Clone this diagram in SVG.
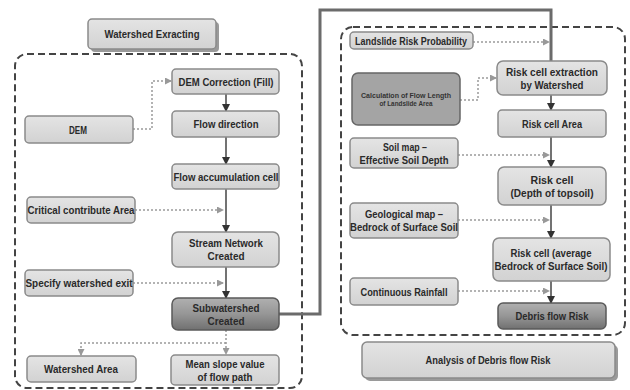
<svg xmlns="http://www.w3.org/2000/svg" width="630" height="390" viewBox="0 0 630 390">
<defs>
<linearGradient id="dark" x1="0" y1="0" x2="0" y2="1">
<stop offset="0" stop-color="#b0b0b0"/><stop offset="0.5" stop-color="#969696"/><stop offset="1" stop-color="#707070"/>
</linearGradient>
<linearGradient id="light" x1="0" y1="0" x2="0" y2="1">
<stop offset="0" stop-color="#e4e4e4"/><stop offset="1" stop-color="#d2d2d2"/>
</linearGradient>
<marker id="ah" markerWidth="8" markerHeight="8" refX="7" refY="4" orient="auto" markerUnits="userSpaceOnUse">
<path d="M0,0 L8,4 L0,8 z" fill="#333"/>
</marker>
<marker id="ahd" markerWidth="7" markerHeight="7" refX="6" refY="3.5" orient="auto" markerUnits="userSpaceOnUse">
<path d="M0,0 L7,3.5 L0,7 z" fill="#999"/>
</marker>
</defs>
<style>
.box{fill:url(#light);stroke:#8a8a8a;stroke-width:1.5}
.dk{fill:url(#dark);stroke:#5a5a5a;stroke-width:1.5}
.mid{fill:#a4a4a4;stroke:#666;stroke-width:1.5}
.sh{fill:#9a9a9a}
.t{font-family:"Liberation Sans",Arial,sans-serif;font-weight:bold;font-size:11px;fill:#2a2a2a;text-anchor:middle}
.ts{font-family:"Liberation Sans",Arial,sans-serif;font-weight:bold;font-size:7px;fill:#333;text-anchor:middle}
.cont{fill:none;stroke:#444;stroke-width:2;stroke-dasharray:7,4}
.sol{fill:none;stroke:#444;stroke-width:1.5;marker-end:url(#ah)}
.dot{fill:none;stroke:#9a9a9a;stroke-width:1.5;stroke-dasharray:2,2;marker-end:url(#ahd)}
.thick{fill:none;stroke:#6b6b6b;stroke-width:3}
</style>
<rect width="630" height="390" fill="#ffffff"/>

<!-- containers -->
<rect class="cont" x="15" y="54" width="287" height="334" rx="12"/>
<rect class="cont" x="341" y="27" width="284" height="308" rx="12"/>

<g id="connectors">
<path class="thick" d="M279,314 H320 V10 H551 V61"/>
<path class="dot" d="M133,129 H152 V81 H171"/>
<path class="sol" d="M226,94 V111"/>
<path class="sol" d="M226,137 V164"/>
<path class="sol" d="M226,189 V232"/>
<path class="dot" d="M135,210 H223"/>
<path class="sol" d="M226,267 V298"/>
<path class="dot" d="M133,283 H223"/>
<path class="dot" d="M226,330 V354"/>
<path class="dot" d="M226,343 H81 V355"/>
<path class="dot" d="M473,42 H549"/>
<path class="dot" d="M460,100 H478 V78 H496"/>
<path class="sol" d="M551,95 V110"/>
<path class="sol" d="M551,137 V167"/>
<path class="dot" d="M458,155 H549"/>
<path class="sol" d="M551,205 V238"/>
<path class="dot" d="M458,220 H549"/>
<path class="sol" d="M551,281 V303"/>
<path class="dot" d="M458,291 H549"/>
</g>

<g id="watershed-exracting">
<rect class="sh" x="91" y="22" width="128" height="30" rx="4"/>
<rect class="box" x="88" y="19" width="128" height="30" rx="4"/>
<text class="t" x="152" y="38" textLength="95" lengthAdjust="spacingAndGlyphs">Watershed Exracting</text>
</g>
<g id="dem-correction">
<rect class="box" x="172" y="69" width="107" height="25" rx="4"/>
<text class="t" x="226" y="85.5" textLength="95" lengthAdjust="spacingAndGlyphs">DEM Correction (Fill)</text>
</g>
<g id="flow-direction">
<rect class="box" x="172" y="111" width="107" height="26" rx="4"/>
<text class="t" x="226" y="128" textLength="65" lengthAdjust="spacingAndGlyphs">Flow direction</text>
</g>
<g id="dem">
<rect class="box" x="25" y="116" width="108" height="27" rx="4"/>
<text class="t" x="78" y="133.5" textLength="18" lengthAdjust="spacingAndGlyphs">DEM</text>
</g>
<g id="flow-accumulation">
<rect class="box" x="172" y="164" width="107" height="25" rx="4"/>
<text class="t" x="226" y="180.5" textLength="105" lengthAdjust="spacingAndGlyphs">Flow accumulation cell</text>
</g>
<g id="critical-area">
<rect class="box" x="27" y="197" width="108" height="26" rx="4"/>
<text class="t" x="81" y="214" textLength="107" lengthAdjust="spacingAndGlyphs">Critical contribute Area</text>
</g>
<g id="stream-network">
<rect class="box" x="172" y="232" width="107" height="35" rx="6"/>
<text class="t" x="226" y="247" textLength="74" lengthAdjust="spacingAndGlyphs">Stream Network</text>
<text class="t" x="226" y="259.5" textLength="37" lengthAdjust="spacingAndGlyphs">Created</text>
</g>
<g id="specify-exit">
<rect class="box" x="25" y="270" width="108" height="26" rx="4"/>
<text class="t" x="79" y="287" textLength="107" lengthAdjust="spacingAndGlyphs">Specify  watershed exit</text>
</g>
<g id="subwatershed">
<rect class="dk" x="172" y="298" width="107" height="32" rx="6"/>
<text class="t" x="226" y="312" textLength="67" lengthAdjust="spacingAndGlyphs">Subwatershed</text>
<text class="t" x="226" y="324.5" textLength="37" lengthAdjust="spacingAndGlyphs">Created</text>
</g>
<g id="watershed-area">
<rect class="box" x="27" y="356" width="109" height="26" rx="4"/>
<text class="t" x="81" y="373" textLength="74" lengthAdjust="spacingAndGlyphs">Watershed Area</text>
</g>
<g id="mean-slope">
<rect class="box" x="171" y="355" width="108" height="30" rx="4"/>
<text class="t" x="225" y="368" textLength="79" lengthAdjust="spacingAndGlyphs">Mean slope value</text>
<text class="t" x="225" y="380.5" textLength="55" lengthAdjust="spacingAndGlyphs">of flow path</text>
</g>

<g id="landslide-risk">
<rect class="box" x="350" y="32" width="123" height="17" rx="4"/>
<text class="t" x="411" y="44.5" textLength="112" lengthAdjust="spacingAndGlyphs">Landslide Risk Probability</text>
</g>
<g id="calc-flow-length">
<rect class="mid" x="352" y="73" width="108" height="52" rx="6"/>
<text class="ts" x="406" y="98" textLength="90" lengthAdjust="spacingAndGlyphs">Calculation  of Flow Length</text>
<text class="ts" x="406" y="106" textLength="53" lengthAdjust="spacingAndGlyphs">of Landslide  Area</text>
</g>
<g id="risk-cell-extraction">
<rect class="box" x="497" y="61" width="110" height="34" rx="6"/>
<text class="t" x="552" y="76" textLength="92" lengthAdjust="spacingAndGlyphs">Risk cell extraction</text>
<text class="t" x="552" y="88.5" textLength="63" lengthAdjust="spacingAndGlyphs">by Watershed</text>
</g>
<g id="risk-cell-area">
<rect class="box" x="498" y="110" width="108" height="27" rx="4"/>
<text class="t" x="552" y="127.5" textLength="60" lengthAdjust="spacingAndGlyphs">Risk cell Area</text>
</g>
<g id="soil-map">
<rect class="box" x="350" y="138" width="108" height="30" rx="4"/>
<text class="t" x="405" y="151" textLength="44" lengthAdjust="spacingAndGlyphs">Soil map –</text>
<text class="t" x="404" y="163.5" textLength="89" lengthAdjust="spacingAndGlyphs">Effective Soil Depth</text>
</g>
<g id="risk-cell-depth">
<rect class="box" x="498" y="167" width="108" height="38" rx="6"/>
<text class="t" x="552" y="184" textLength="43" lengthAdjust="spacingAndGlyphs">Risk cell</text>
<text class="t" x="552" y="196.5" textLength="83" lengthAdjust="spacingAndGlyphs">(Depth of topsoil)</text>
</g>
<g id="geological-map">
<rect class="box" x="350" y="203" width="108" height="35" rx="4"/>
<text class="t" x="404" y="218" textLength="78" lengthAdjust="spacingAndGlyphs">Geological map –</text>
<text class="t" x="404" y="230.5" textLength="108" lengthAdjust="spacingAndGlyphs">Bedrock of Surface Soil</text>
</g>
<g id="risk-cell-average">
<rect class="box" x="493" y="238" width="117" height="43" rx="6"/>
<text class="t" x="551" y="257" textLength="81" lengthAdjust="spacingAndGlyphs">Risk cell (average</text>
<text class="t" x="551" y="269.5" textLength="113" lengthAdjust="spacingAndGlyphs">Bedrock of Surface Soil)</text>
</g>
<g id="continuous-rainfall">
<rect class="box" x="350" y="278" width="108" height="27" rx="4"/>
<text class="t" x="404" y="295.5" textLength="87" lengthAdjust="spacingAndGlyphs">Continuous Rainfall</text>
</g>
<g id="debris-flow-risk">
<rect class="dk" x="498" y="303" width="108" height="26" rx="5"/>
<text class="t" x="552" y="320" textLength="73" lengthAdjust="spacingAndGlyphs">Debris flow Risk</text>
</g>
<g id="analysis">
<rect class="sh" x="365" y="345" width="253" height="36" rx="5"/>
<rect class="box" x="362" y="342" width="253" height="36" rx="5"/>
<text class="t" x="488" y="364" textLength="125" lengthAdjust="spacingAndGlyphs">Analysis of Debris flow Risk</text>
</g>
</svg>
